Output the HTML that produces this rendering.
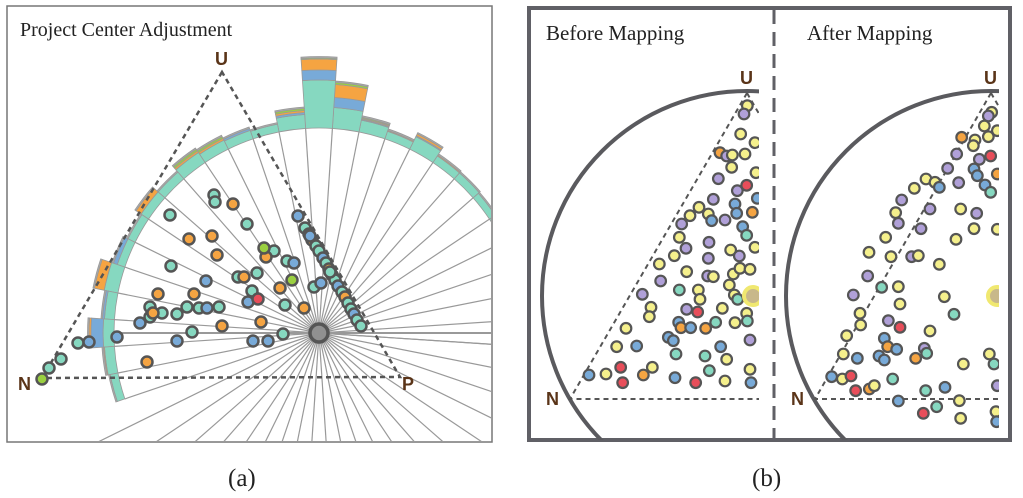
<!DOCTYPE html>
<html><head><meta charset="utf-8"><style>
html,body{margin:0;padding:0;background:#fff;overflow:hidden;width:1023px;height:498px;}
svg{display:block;}
.ttl{font-family:"Liberation Serif",serif;font-size:21px;fill:#222;}
.cap{font-family:"Liberation Serif",serif;font-size:25px;fill:#222;}
.vl{font-family:"Liberation Sans",sans-serif;font-weight:bold;font-size:18px;fill:#5a3418;}
</style></head><body>
<svg id="s" width="1023" height="498" viewBox="0 0 1023 498" xmlns="http://www.w3.org/2000/svg">
<defs>
<clipPath id="ca"><rect x="8" y="7" width="483" height="434"/></clipPath>
<clipPath id="cb1"><rect x="529" y="8" width="230" height="432"/></clipPath>
<clipPath id="cb2"><rect x="776" y="8" width="223" height="432"/></clipPath>
</defs>
<g>
<rect x="7" y="6" width="485" height="436" fill="#fff" stroke="#777" stroke-width="1.5"/>
<g id="ga" clip-path="url(#ca)"></g>
<text class="ttl" x="20" y="36" style="font-size:20px">Project Center Adjustment</text>
<text class="vl" x="215" y="65">U</text>
<text class="vl" x="18" y="390">N</text>
<text class="vl" x="402" y="390">P</text>
</g>
<g>
<rect x="529" y="8" width="481" height="432" fill="#fff" stroke="#606066" stroke-width="4"/>
<line x1="774" y1="10" x2="774" y2="438" stroke="#606066" stroke-width="3" stroke-dasharray="14,8"/>
<g id="gb1" clip-path="url(#cb1)"></g>
<g id="gb2" clip-path="url(#cb2)"></g>
<text class="ttl" x="546" y="40">Before Mapping</text>
<text class="ttl" x="807" y="40">After Mapping</text>
<text class="vl" x="740" y="84">U</text>
<text class="vl" x="546" y="405">N</text>
<text class="vl" x="984" y="84">U</text>
<text class="vl" x="791" y="405">N</text>
</g>
<text class="cap" x="228" y="486">(a)</text>
<text class="cap" x="752" y="486">(b)</text>
</svg>
<script>
const binAngles=[0,7.5,15,22.5,30,37.5,45,52.5,60,67.5,75,82.5,90,97.5,105,112.5,120,127.5,135,142.5,150,157.5,165,172.5,180,187.5,195];
const tealVals=[2,2,2,2,2,1,2,2,8,2,6,15,42,8,2,3,4,6,3,3,2,2,8,4,5,4,2];
const blueVals=[0,0,0,0,0,0,0,0,1,0,1,10,10,2,0,2,0,0,0,0,0,4,0,2,12,0,0];
const orangeVals=[0,0,1,0,0,0,0,1,2,1,1,13,11,2,0,0,2,2,0,6,0,0,10,0,2,1,0];
const greenVals=[0,0,0,0,0,0,0,0,0,0,1,2,1,2,0,0,2,2,0,0,0,0,0,0,0,0,0];
const ptsA=[[214,195,'t'],[215,202,'t'],[170,215,'t'],[247,224,'t'],[171,266,'t'],[274,251,'t'],[287,261,'t'],[257,273,'t'],[238,277,'t'],[252,291,'t'],[285,305,'t'],[150,307,'t'],[162,313,'t'],[177,314,'t'],[187,307,'t'],[199,308,'t'],[219,307,'t'],[192,332,'t'],[283,334,'t'],[314,287,'t'],[78,343,'t'],[61,359,'t'],[49,368,'t'],[150,317,'t'],
[233,204,'o'],[189,239,'o'],[212,236,'o'],[217,255,'o'],[266,257,'o'],[244,277,'o'],[280,288,'o'],[158,294,'o'],[194,294,'o'],[153,313,'o'],[261,322,'o'],[222,326,'o'],[304,308,'o'],[147,362,'o'],
[294,263,'b'],[206,281,'b'],[248,302,'b'],[207,308,'b'],[140,323,'b'],[177,341,'b'],[253,341,'b'],[268,341,'b'],[89,342,'b'],[321,283,'b'],[117,337,'b'],[298,216,'b'],
[264,248,'g'],[292,280,'g'],[42,379,'g'],[258,299,'r'],
[305,228,'t'],[309,234,'t'],[312,240,'o'],[316,246,'t'],[319,251,'t'],[323,258,'b'],[326,263,'t'],[329,269,'o'],[332,275,'t'],[335,280,'t'],[338,286,'b'],[342,292,'t'],[345,297,'o'],[348,303,'t'],[351,309,'t'],[354,314,'b'],[357,320,'t'],[361,326,'t'],[310,236,'b'],[330,272,'t']];
const ptsB=[[682,317,'y'],[672,342,'p'],[662,402,'y'],[705,428,'y'],[600,458,'o'],[620,468,'p'],[637,465,'y'],[675,462,'y'],[635,502,'y'],[708,518,'y'],[595,536,'p'],[680,556,'r'],[652,572,'p'],[712,595,'b'],[580,598,'p'],[537,622,'y'],[510,647,'y'],[565,642,'y'],[575,662,'b'],[615,660,'p'],[645,612,'b'],[650,640,'b'],[697,637,'o'],[668,680,'b'],[680,706,'t'],[485,672,'p'],[478,712,'y'],[498,745,'p'],[463,767,'y'],[567,727,'p'],[632,750,'y'],[658,768,'p'],[705,742,'y'],[418,792,'y'],[500,815,'y'],[565,775,'p'],[563,828,'p'],[580,830,'y'],[640,822,'y'],[660,805,'y'],[690,808,'y'],[422,843,'p'],[628,855,'y'],[478,870,'t'],[535,870,'y'],[540,898,'y'],[367,883,'p'],[643,885,'y'],[653,898,'t'],[393,922,'y'],[388,950,'y'],[500,928,'p'],[533,936,'r'],[607,925,'y'],[680,940,'y'],[476,967,'b'],[483,983,'o'],[512,983,'b'],[557,985,'o'],[587,967,'t'],[645,968,'y'],[682,963,'t'],[318,985,'y'],[445,1012,'b'],[460,1022,'b'],[290,1040,'y'],[350,1038,'b'],[468,1062,'t'],[555,1068,'t'],[602,1040,'b'],[620,1078,'y'],[690,1020,'p'],[207,1125,'b'],[258,1122,'y'],[302,1102,'r'],[370,1125,'o'],[397,1102,'y'],[308,1148,'r'],[465,1133,'b'],[527,1148,'r'],[568,1112,'t'],[615,1143,'y'],[690,1108,'y'],[693,1148,'b']];
const ptsC=[[1415,337,'y'],[1405,348,'p'],[1393,378,'y'],[1432,392,'y'],[1325,412,'o'],[1365,420,'y'],[1405,410,'y'],[1360,437,'y'],[1378,478,'p'],[1412,468,'r'],[1310,462,'p'],[1283,505,'p'],[1362,507,'b'],[1372,527,'b'],[1432,522,'o'],[1218,537,'y'],[1245,547,'y'],[1258,562,'b'],[1316,548,'p'],[1395,555,'b'],[1412,577,'t'],[1183,565,'y'],[1145,600,'p'],[1127,638,'y'],[1135,670,'p'],[1230,627,'p'],[1322,627,'y'],[1370,640,'p'],[1203,686,'p'],[1362,686,'y'],[1432,688,'y'],[1097,712,'y'],[1308,718,'y'],[1047,757,'y'],[1113,770,'y'],[1175,770,'p'],[1195,767,'y'],[1258,793,'y'],[1043,828,'p'],[1085,862,'t'],[1135,860,'y'],[1000,885,'p'],[1273,890,'y'],[1140,912,'y'],[1020,940,'y'],[1302,943,'t'],[1022,975,'y'],[1105,962,'p'],[1140,982,'r'],[1230,993,'y'],[980,1007,'y'],[1093,1015,'b'],[1103,1040,'o'],[1130,1048,'b'],[1213,1045,'p'],[1220,1060,'t'],[970,1062,'y'],[1012,1075,'b'],[1077,1068,'b'],[1093,1080,'b'],[1187,1075,'o'],[1408,1062,'y'],[1422,1092,'t'],[1330,1092,'y'],[935,1130,'b'],[967,1137,'y'],[993,1128,'r'],[1118,1137,'t'],[1007,1172,'r'],[1048,1167,'o'],[1063,1157,'y'],[1135,1203,'b'],[1217,1172,'t'],[1275,1162,'b'],[1250,1220,'t'],[1210,1240,'r'],[1318,1202,'y'],[1322,1255,'y'],[1432,1157,'p'],[1428,1235,'y'],[1430,1265,'b']];
const COL={t:'#86d8c0',o:'#f5a442',b:'#78aad8',g:'#9ad040',r:'#e84e5a',y:'#f5f08c',p:'#b0a0d8'};
const NS='http://www.w3.org/2000/svg';
function mk(p,tag,at){const e=document.createElementNS(NS,tag);for(const k in at)e.setAttribute(k,at[k]);p.appendChild(e);return e;}
const cx=319,cy=333,R0=205,BASE=6;
function px(a,r){return cx+r*Math.cos(a*Math.PI/180);}
function py(a,r){return cy-r*Math.sin(a*Math.PI/180);}
const ga=document.getElementById('ga');
for(let a=-3.75;a<360;a+=7.5){
  const inRing=(a>=-4&&a<=199);
  const L=inRing?R0:420;
  const ln=mk(ga,'line',{x1:cx,y1:cy,x2:px(a,L),y2:py(a,L),stroke:'#999','stroke-width':1.2});
  
  
}
const hz=mk(ga,'line',{x1:112,y1:cy,x2:495,y2:cy,stroke:'#999','stroke-width':2});


function sector(a0,a1,r0,r1,fill){
  const d=`M${px(a0,r0)},${py(a0,r0)} L${px(a0,r1)},${py(a0,r1)} A${r1},${r1} 0 0 0 ${px(a1,r1)},${py(a1,r1)} L${px(a1,r0)},${py(a1,r0)} A${r0},${r0} 0 0 1 ${px(a0,r0)},${py(a0,r0)}Z`;
  return mk(ga,'path',{d:d,fill:fill,stroke:'#999','stroke-width':0.8});
}
binAngles.forEach((ang,i)=>{
  let r=R0;
  const stack=[[tealVals[i]+BASE,'#86d8c0'],[blueVals[i],'#78aad8'],[orangeVals[i],'#f5a442'],[greenVals[i],'#9ad040']];
  stack.forEach(([v,c])=>{
    if(v<=0)return;
    const s=sector(ang-3.75,ang+3.75,r,r+v,c);
    
    
    r+=v;
  });
  const cap=sector(ang-3.75,ang+3.75,r,r+1.5,'#aaa');
  
  
});
const tri=mk(ga,'polygon',{points:'222,72 42,378 400,377',fill:'none',stroke:'#555','stroke-width':2.5,'stroke-dasharray':'5,4'});


ptsA.forEach(p=>{
  const c=mk(ga,'circle',{cx:p[0],cy:p[1],r:5.5,fill:COL[p[2]],stroke:'#555','stroke-width':2.5});
  
  
});
const ctr=mk(ga,'circle',{cx:cx,cy:cy,r:9,fill:'#909090',stroke:'#555','stroke-width':3.5});



function panelB(g,ux,nx,pts){
  const ccy=296,rr=205;
  const circ=mk(g,'circle',{cx:ux,cy:ccy,r:rr,fill:'none',stroke:'#5a5a5e','stroke-width':4});
  
  
  const t=mk(g,'polyline',{points:`${ux},93 ${nx},399 ${ux+40},399`,fill:'none',stroke:'#555','stroke-width':2,'stroke-dasharray':'5,4'});
  
  
  const t2=mk(g,'line',{x1:ux,y1:93,x2:ux+30,y2:145,stroke:'#555','stroke-width':2,'stroke-dasharray':'5,4'});
  
  
  pts.forEach(p=>{
    const c=mk(g,'circle',{cx:520+p[0]/3,cy:p[1]/3,r:5.3,fill:COL[p[2]],stroke:'#555','stroke-width':2.2});
    
    
  });
  const big=mk(g,'circle',{cx:ux+6,cy:ccy,r:9,fill:'#c8b88a',stroke:'#f0e870','stroke-width':4});
  
  
}
panelB(document.getElementById('gb1'),747,570,ptsB);
panelB(document.getElementById('gb2'),991,815,ptsC);
</script>
</body></html>
